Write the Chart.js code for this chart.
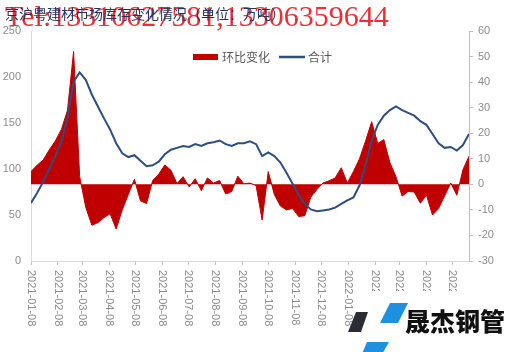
<!DOCTYPE html>
<html>
<head>
<meta charset="utf-8">
<script src="https://cdn.jsdelivr.net/npm/chart.js@4.4.0/dist/chart.umd.min.js"></script>
<style>
  body { margin: 0; background: #fff; }
  #wrap { position: relative; width: 508px; height: 352px; overflow: hidden; }
  #myChart { position: absolute; left: 0; top: 0; }
  .title { position: absolute; left: 5px; top: 5px; font: 14px/16px "Noto Sans CJK SC"; color: #25345a; white-space: nowrap; }
  .tel { position: absolute; left: 5px; top: 1px; font: 30px/30px "Liberation Serif"; color: #e8303a; white-space: nowrap; }
  .logo { position: absolute; left: 0; top: 0; }
  .logotext { position: absolute; left: 405px; top: 308px; font: 900 25px/25px "Noto Sans CJK SC"; color: #111; white-space: nowrap; }
</style>
</head>
<body>
<div id="wrap">
  <canvas id="myChart" width="508" height="352"></canvas>
  <div class="tel">Tel:13310627581,13306359644</div>
  <div class="title">京沪粤建材市场库存变化情况（单位：万吨）</div>
  <svg class="logo" width="508" height="352">
    <rect x="366" y="291" width="142" height="61" fill="#fff"/>
    <polygon points="356,312 368,312 361,332 348,332" fill="#2a2d33"/>
    <polygon points="390,303 408,303 398,323 380,323" fill="#1e90e0"/>
    <polygon points="367,342 389,342 381,356 361,356" fill="#1e90e0"/>
  </svg>
  <div class="logotext">晟杰钢管</div>
</div>
<script>
var startDate = "2021-01-08";
var monthLabels = ["2021-01-08", "2021-02-08", "2021-03-08", "2021-04-08", "2021-05-08", "2021-06-08",
	"2021-07-08", "2021-08-08", "2021-09-08", "2021-10-08", "2021-11-08", "2021-12-08",
	"2022-01-08", "2022-02-08", "2022-03-08", "2022-04-08", "2022-05-08"];

// 合计 (left axis), one value per week
var total = [63, 74, 86, 100, 114, 130, 156, 195, 205, 197, 181, 168, 155, 143, 128, 117, 113, 115, 109, 103,
	104, 108, 116, 121, 123, 125, 124, 127, 125, 128, 129, 131, 127, 125, 128, 128, 130, 127, 114, 118,
	114, 107, 96, 84, 72, 62, 56, 54, 55, 56, 58, 62, 66, 69, 82, 104, 131, 148, 158, 164,
	168, 164, 161, 158, 152, 148, 138, 128, 123, 124, 120, 126, 138];

// 环比变化 (right axis)
var change = [5, 7.5, 9.5, 13.5, 17, 21.5, 29, 52, 3, -9, -16, -15, -13, -11.5, -17.5, -10, -4, 2, -6.5, -7.5,
	1.5, 4, 7.6, 5.5, 0.3, 3, -1, 2.2, -2.5, 2.5, 0.5, 1.5, -3.8, -2.8, 3.2, 0.2, 0.5, -0.5, -14, 5,
	-4, -8.5, -10, -9.5, -12.6, -12.3, -5, -2, 0.5, 1.4, 2.5, 6.5, 0.5, 5, 10, 17, 24.5, 16, 17.5, 8.5,
	3, -4.6, -2.8, -3, -7.4, -4.2, -12, -9.5, -4.5, 0.5, -4.3, 5.7, 11];

var week = 7 * 86400000;
var monthTicks = monthLabels.map(function (d) { return (Date.parse(d) - Date.parse(startDate)) / week; });

var labelFont = '11px "Liberation Sans"';
var labelColor = '#8c8c8c';

// x labels read top to bottom, like the source
var xLabels = {
	id: 'xLabels',
	afterDraw: function (chart) {
		var ctx = chart.ctx, xs = chart.scales.x;
		ctx.save();
		ctx.font = labelFont;
		ctx.fillStyle = labelColor;
		ctx.textAlign = 'left';
		ctx.textBaseline = 'middle';
		monthLabels.forEach(function (lab, k) {
			var px = xs.getPixelForValue(monthTicks[k]);
			ctx.save();
			ctx.translate(px, xs.top + 9);
			ctx.rotate(Math.PI / 2);
			ctx.fillText(lab, 0, 0);
			ctx.restore();
		});
		ctx.restore();
	}
};

// legend sits inside the plot
var innerLegend = {
	id: 'innerLegend',
	afterDraw: function (chart) {
		var ctx = chart.ctx, ds = chart.data.datasets;
		ctx.save();
		ctx.font = '12px "Noto Sans CJK SC"';
		ctx.textBaseline = 'middle';
		ctx.fillStyle = ds[0].backgroundColor;
		ctx.fillRect(193, 54, 25, 6);
		ctx.fillStyle = '#595959';
		ctx.fillText(ds[0].label, 222, 57);
		ctx.strokeStyle = ds[1].borderColor;
		ctx.lineWidth = 2.5;
		ctx.beginPath();
		ctx.moveTo(279, 57);
		ctx.lineTo(305, 57);
		ctx.stroke();
		ctx.fillText(ds[1].label, 308, 57);
		ctx.restore();
	}
};

function buildChart() {
	var ctx = document.getElementById('myChart').getContext('2d');
	var chart = new Chart(ctx, {
		type: 'line',
		data: {
			datasets: [{
				label: "环比变化",
				data: change.map(function (v, i) { return { x: i, y: v }; }),
				yAxisID: 'y1',
				backgroundColor: '#c00000',
				borderColor: '#c00000',
				borderWidth: 1,
				fill: 'origin',
				pointRadius: 0,
				tension: 0,
				order: 2
			}, {
				label: "合计",
				data: total.map(function (v, i) { return { x: i, y: v }; }),
				yAxisID: 'y',
				borderColor: '#2d4e7e',
				borderWidth: 2,
				fill: false,
				pointRadius: 0,
				tension: 0,
				order: 1
			}]
		},
		options: {
			responsive: false,
			animation: false,
			layout: { padding: { top: 31, left: 0, right: 0, bottom: 0 } },
			plugins: { legend: { display: false }, tooltip: { enabled: false } },
			scales: {
				x: {
					type: 'linear',
					min: 0,
					max: total.length - 1,
					afterBuildTicks: function (scale) {
						scale.ticks = monthTicks.map(function (v) { return { value: v }; });
					},
					afterFit: function (scale) { scale.height = 91; },
					ticks: { display: false },
					grid: { drawOnChartArea: false, drawTicks: true, tickLength: 4, color: '#bfbfbf' },
					border: { color: '#d9d9d9' }
				},
				y: {
					position: 'left',
					min: 0,
					max: 250,
					afterFit: function (scale) { scale.width = 31; },
					ticks: { stepSize: 50, padding: 10, color: labelColor, font: { family: 'Liberation Sans', size: 11 } },
					grid: { drawOnChartArea: false, drawTicks: false },
					border: { color: '#d9d9d9' }
				},
				y1: {
					position: 'right',
					min: -30,
					max: 60,
					afterFit: function (scale) { scale.width = 39; },
					ticks: { stepSize: 10, padding: 5, color: labelColor, font: { family: 'Liberation Sans', size: 11 } },
					grid: { drawOnChartArea: false, drawTicks: true, tickLength: 4, color: '#bfbfbf' },
					border: { color: '#bfbfbf' }
				}
			}
		},
		plugins: [xLabels, innerLegend]
	});
}

buildChart();
</script>
</body>
</html>
